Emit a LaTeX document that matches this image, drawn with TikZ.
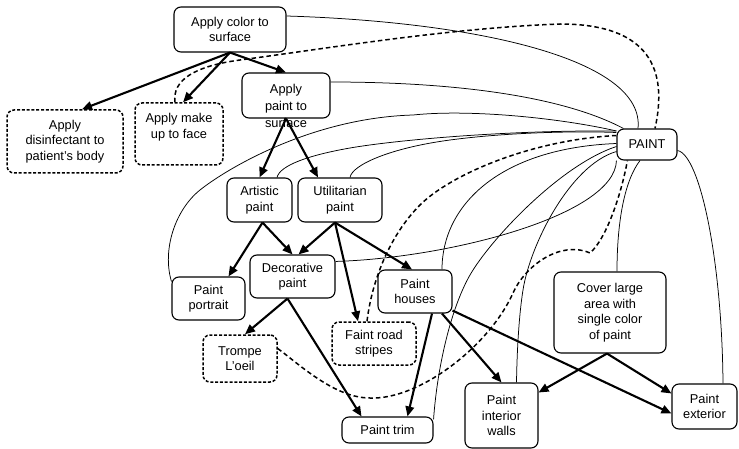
\documentclass[tikz,border=0pt]{standalone}
\usepackage{fontspec}
\setmainfont{Liberation Sans}
\usetikzlibrary{arrows.meta,calc}
\newcommand\fs{\fontsize{12.8}{15.5}\selectfont}
\begin{document}
\begin{tikzpicture}[x=1pt,y=-1pt,
  box/.style={draw, rounded corners=7pt, line width=1.1pt, align=center, inner sep=0pt, font=\fs},
  dbox/.style={box, dash pattern=on 3pt off 1.8pt, line width=1.5pt},
  txt/.style={align=center, inner sep=0pt, font=\fs},
  arr/.style={line width=2.1pt, -{Triangle[length=10pt,width=8.5pt]}},
  thinl/.style={line width=0.75pt},
  dsh/.style={line width=1.5pt, dash pattern=on 4.5pt off 3pt}]
\useasboundingbox (0,0) rectangle (739,449);
% nodes
\node[box, minimum width=112pt, minimum height=45pt] (col) at (230,29.5) {Apply color to\\surface};
\node[dbox, minimum width=116pt, minimum height=63pt] (dis) at (65,141.5) {Apply\\disinfectant to\\patient’s body};
\node[dbox, minimum width=88pt, minimum height=62pt] (mk) at (179,134) {};
\node[txt] (mkt) at (179,127) {Apply make\\up to face};
\node[box, minimum width=88pt, minimum height=45pt] (ap) at (286,95.5) {};
\node[txt, font=\fontsize{12.8}{17}\selectfont] (apt) at (286,106) {Apply\\paint to\\surface};
\node[box, minimum width=60pt, minimum height=31pt] (paint) at (647,144.5) {PAINT};
\node[box, minimum width=65pt, minimum height=44pt] (art) at (259.5,200) {Artistic\\paint};
\node[box, minimum width=84pt, minimum height=44pt] (util) at (340,200) {Utilitarian\\paint};
\node[box, minimum width=85pt, minimum height=43pt] (dec) at (292.5,276.5) {Decorative\\paint};
\node[box, minimum width=73pt, minimum height=43pt] (port) at (208.5,298.5) {Paint\\portrait};
\node[box, minimum width=74pt, minimum height=43pt] (hou) at (415,291.5) {Paint\\houses};
\node[dbox, minimum width=84pt, minimum height=43pt] (str) at (374,343.5) {Faint road\\stripes};
\node[dbox, minimum width=74pt, minimum height=47pt] (tro) at (240,358.5) {Trompe\\L’oeil};
\node[box, minimum width=91pt, minimum height=26pt] (trim) at (387.5,430) {Paint trim};
\node[box, minimum width=73pt, minimum height=65pt] (wal) at (501.5,415.5) {Paint\\interior\\walls};
\node[box, minimum width=112pt, minimum height=81pt] (cov) at (610,312.5) {Cover large\\area with\\single color\\of paint};
\node[box, minimum width=65pt, minimum height=45pt] (ext) at (704.5,406.5) {Paint\\exterior};
% thick arrows
\draw[arr] (col.south) -- ($(dis.north)+(17,0)$);
\draw[arr] (col.south) -- ($(mk.north)+(4,0)$);
\draw[arr] (col.south) -- (ap.north);
\draw[arr] (ap.south) -- (art.north);
\draw[arr] (ap.south) -- ($(util.north)+(-22,0)$);
\draw[arr] ($(art.south)+(3,0)$) -- ($(port.north)+(20,0)$);
\draw[arr] ($(art.south)+(3,0)$) -- (dec.north);
\draw[arr] ($(util.south)+(-5,0)$) -- ($(dec.north)+(6,0)$);
\draw[arr] ($(util.south)+(-5,0)$) -- ($(hou.north)+(-3,0)$);
\draw[arr] ($(util.south)+(-5,0)$) -- ($(str.north)+(-16,0)$);
\draw[arr] ($(dec.south)+(-5,0)$) -- ($(tro.north)+(5,0)$);
\draw[arr] ($(dec.south)+(-5,0)$) -- ($(trim.north)+(-26,0)$);
\draw[arr] ($(hou.south)+(17,0)$) -- ($(trim.north)+(20,0)$);
\draw[arr] ($(hou.south)+(27,0)$) -- (wal.north);
\draw[arr] ($(hou.south east)+(0,-3)$) -- ($(ext.west)+(0,7)$);
\draw[arr] ($(cov.south)+(-3,0)$) -- ($(wal.east)+(0,-23)$);
\draw[arr] ($(cov.south)+(-3,0)$) -- ($(ext.west)+(0,-13)$);
% thin connectors to PAINT
\draw[thinl] ($(col.east)+(0,-13.5)$) .. controls (480,22) and (645,60) .. ($(paint.north)+(-9,0)$);
\draw[thinl] ($(ap.east)+(0,-13.5)$) .. controls (450,82) and (560,95) .. ($(paint.north west)+(7,0)$);
\draw[thinl] ($(port.north west)+(0,5)$) .. controls (162,250) and (175,210) .. (200,190)
   .. controls (225,170) and (310,118) .. (413,115)
   .. controls (470,109) and (560,118) .. ($(paint.west)+(0,-13.5)$);
\draw[thinl] ($(art.north)+(17.5,0)$) .. controls (280,165) and (310,155) .. (350,148)
   .. controls (390,141) and (500,130) .. ($(paint.west)+(0,-13.5)$);
\draw[thinl] ($(util.north)+(10,0)$) .. controls (352,165) and (390,148) .. (450,140)
   .. controls (510,132) and (580,131) .. ($(paint.west)+(0,-12)$);
\draw[thinl] ($(dec.north east)+(0,7)$) .. controls (450,258) and (615,215) .. (paint.south west);
\draw[thinl] ($(hou.north)+(27,0)$) .. controls (442,205) and (500,148) .. ($(paint.west)+(0,-1)$);
\draw[thinl] ($(trim.north east)+(0,3)$) .. controls (437,370) and (450,310) .. (470,275)
   .. controls (490,240) and (560,165) .. ($(paint.west)+(0,2)$);
\draw[thinl] ($(wal.north)+(15,0)$) .. controls (517,350) and (519,315) .. (523,290)
   .. controls (530,245) and (570,165) .. ($(paint.west)+(0,7)$);
\draw[thinl] ($(cov.north)+(7,0)$) .. controls (617,220) and (625,180) .. ($(paint.south)+(-7,0)$);
\draw[thinl] ($(paint.east)+(0,6)$) .. controls (700,155) and (722,260) .. ($(ext.north)+(18.5,0)$);
% dashed connectors to PAINT
\draw[dsh] ($(mk.north)+(-4,0)$) .. controls (172,80) and (195,66) .. (240,60)
   .. controls (330,48) and (450,28) .. (560,24)
   .. controls (650,24) and (668,70) .. ($(paint.north)+(8,0)$);
\draw[dsh] ($(str.north)+(-7,0)$) .. controls (372,280) and (390,235) .. (420,205)
   .. controls (450,175) and (530,140) .. ($(paint.west)+(0,-9)$);
\draw[dsh] ($(tro.east)+(0,-10)$) .. controls (300,365) and (335,398) .. (370,398)
   .. controls (420,400) and (490,345) .. (513,293)
   .. controls (525,266) and (560,240) .. (590,253)
   .. controls (605,240) and (620,200) .. ($(paint.south west)+(11,0)$);
\end{tikzpicture}
\end{document}
